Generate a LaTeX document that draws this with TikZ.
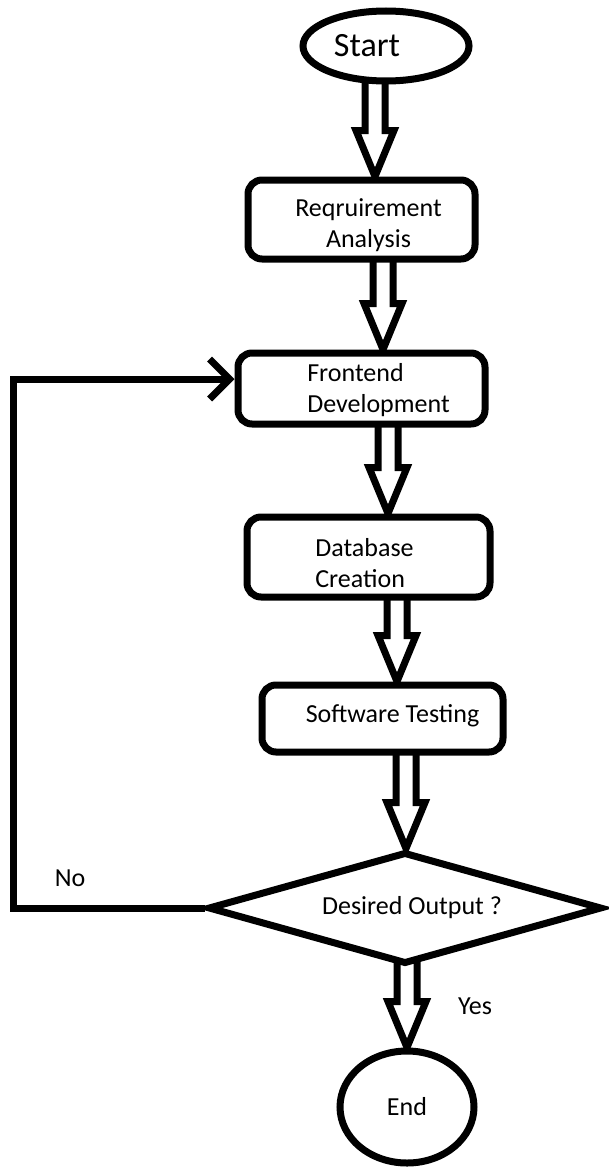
\documentclass[tikz,border=0pt]{standalone}
\usepackage{fontspec}
\setmainfont{Carlito}
\usetikzlibrary{shapes.geometric,arrows.meta,calc,backgrounds}
\newcommand{\txt}{\fontsize{26}{31}\selectfont}
\newcommand{\bigtxt}{\fontsize{34}{40}\selectfont}
% hollow block arrow: #1 = x of arrow, #2 = source node, #3 = target node
\newcommand{\hollowarr}[3]{%
  \draw[harr] ($(#1-10,0 |- #2.south)+(0,-6)$)
    -- ($(#1,0 |- #3.north)+(-10,-46)$) -- ++(-9,0)
    -- (#1,0 |- #3.north)
    -- ++(19,-46) -- ++(-9,0)
    -- ($(#1+10,0 |- #2.south)+(0,-6)$);}
\begin{document}
\begin{tikzpicture}[x=1pt,y=-1pt,
  line width=7pt,
  harr/.style={draw=black, line width=7pt, line join=miter},
  procbox/.style={draw=black, fill=white, line width=7pt, rounded corners=14pt, inner sep=0pt},
  termnode/.style={draw=black, fill=white, ellipse, line width=7pt, inner sep=0pt},
  decnode/.style={draw=black, fill=white, diamond, line width=7pt, inner sep=0pt},
  lbl/.style={font=\txt, text=black, inner sep=0pt},
  looparrow/.style={draw=black, line width=7pt, line join=miter,
    -{Straight Barb[length=20pt, width=40pt, line width=7pt]}}]
\useasboundingbox (0,0) rectangle (609,1167);

% nodes
\node[termnode, minimum width=166pt, minimum height=70pt,
  label={[lbl, font=\bigtxt, xshift=-19pt]center:Start}] (start) at (386,46) {};
\node[procbox, minimum width=227pt, minimum height=79pt,
  label={[lbl, align=center, xshift=7pt, yshift=-6pt]center:{Reqruirement\\Analysis}}] (req) at (361.5,219.5) {};
\node[procbox, minimum width=247pt, minimum height=71pt,
  label={[lbl, align=left, xshift=17pt, yshift=-2pt]center:{Frontend\\Development}}] (fe) at (361.5,388.5) {};
\node[procbox, minimum width=243pt, minimum height=80pt,
  label={[lbl, align=left, xshift=-4pt, yshift=-6pt]center:{Database\\Creation}}] (db) at (368.5,557) {};
\node[procbox, minimum width=241pt, minimum height=67pt,
  label={[lbl, xshift=10pt, yshift=3pt]center:Software Testing}] (st) at (382.5,718.5) {};
\node[decnode, minimum width=394pt, minimum height=112pt,
  label={[lbl, xshift=7pt]center:Desired Output ?}] (dec) at (405,908) {};
\node[termnode, minimum width=134pt, minimum height=112pt,
  label={[lbl]center:End}] (stop) at (407,1107) {};

\node[lbl] (no) at (70,878) {No};
\node[lbl] (yes) at (475,1006) {Yes};

% hollow block arrows, behind the nodes
\begin{scope}[on background layer]
  \fill[white] (0,0) rectangle (609,1167);
  \hollowarr{375}{start}{req}
  \hollowarr{383}{req}{fe}
  \hollowarr{388}{fe}{db}
  \hollowarr{397}{db}{st}
  \hollowarr{406}{st}{dec}
  \hollowarr{407}{dec}{stop}
\end{scope}

% "No" loop back to Frontend Development
\coordinate (lb) at (dec.west -| 13,0);
\coordinate (lt) at (13,379);
\draw[looparrow] (dec.west) -- (lb) -- (lt) -- (fe.west |- lt);
\end{tikzpicture}
\end{document}
